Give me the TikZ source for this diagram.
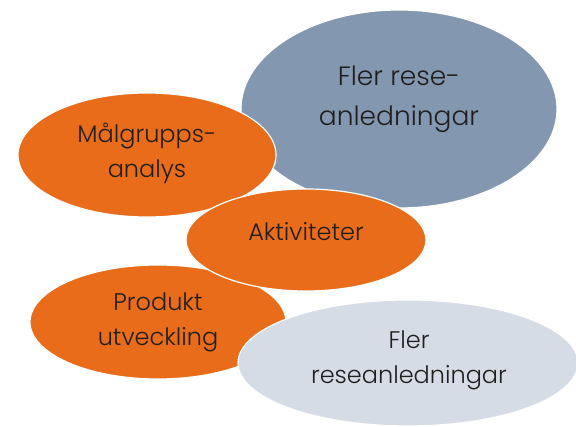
\documentclass[tikz,border=0pt]{standalone}
\usepackage{fontspec}
\setmainfont{Poppins}[UprightFont=* Light]
\definecolor{orangefill}{HTML}{E86C19}
\definecolor{slatefill}{HTML}{8497B0}
\definecolor{palefill}{HTML}{D6DCE5}
\definecolor{inktext}{HTML}{1F1F1F}
\begin{document}
\begin{tikzpicture}[x=1pt,y=-1pt,
  blob/.style={draw=white, line width=1.2pt},
  label/.style={align=center, text=inktext, font=\fontsize{24}{35}\selectfont, inner sep=0pt}]
\useasboundingbox (0,0) rectangle (576,427);
\begin{scope}
\clip (0,0) rectangle (576,427);
% large slate ellipse
\path[blob, fill=slatefill] (399,109) ellipse [x radius=158, y radius=99];
% orange ellipses
\path[blob, fill=orangefill] (147,155) ellipse [x radius=129, y radius=62];
\path[blob, fill=orangefill] (158,322) ellipse [x radius=128, y radius=57];
\path[blob, fill=orangefill] (306,240) ellipse [x radius=120, y radius=51];
% pale ellipse
\path[blob, fill=palefill] (408,363) ellipse [x radius=170, y radius=63];
\end{scope}
\node[label, font=\fontsize{26.5}{40}\selectfont] (rese1) at (399,99) {Fler rese-\\anledningar};
\node[label] (malgrupp) at (147,153) {Målgrupps-\\analys};
\node[label] (aktiv) at (306,232) {Aktiviteter};
\node[label] (produkt) at (158,322) {Produkt\\utveckling};
\node[label] (rese2) at (409,360) {Fler\\reseanledningar};
\end{tikzpicture}
\end{document}
